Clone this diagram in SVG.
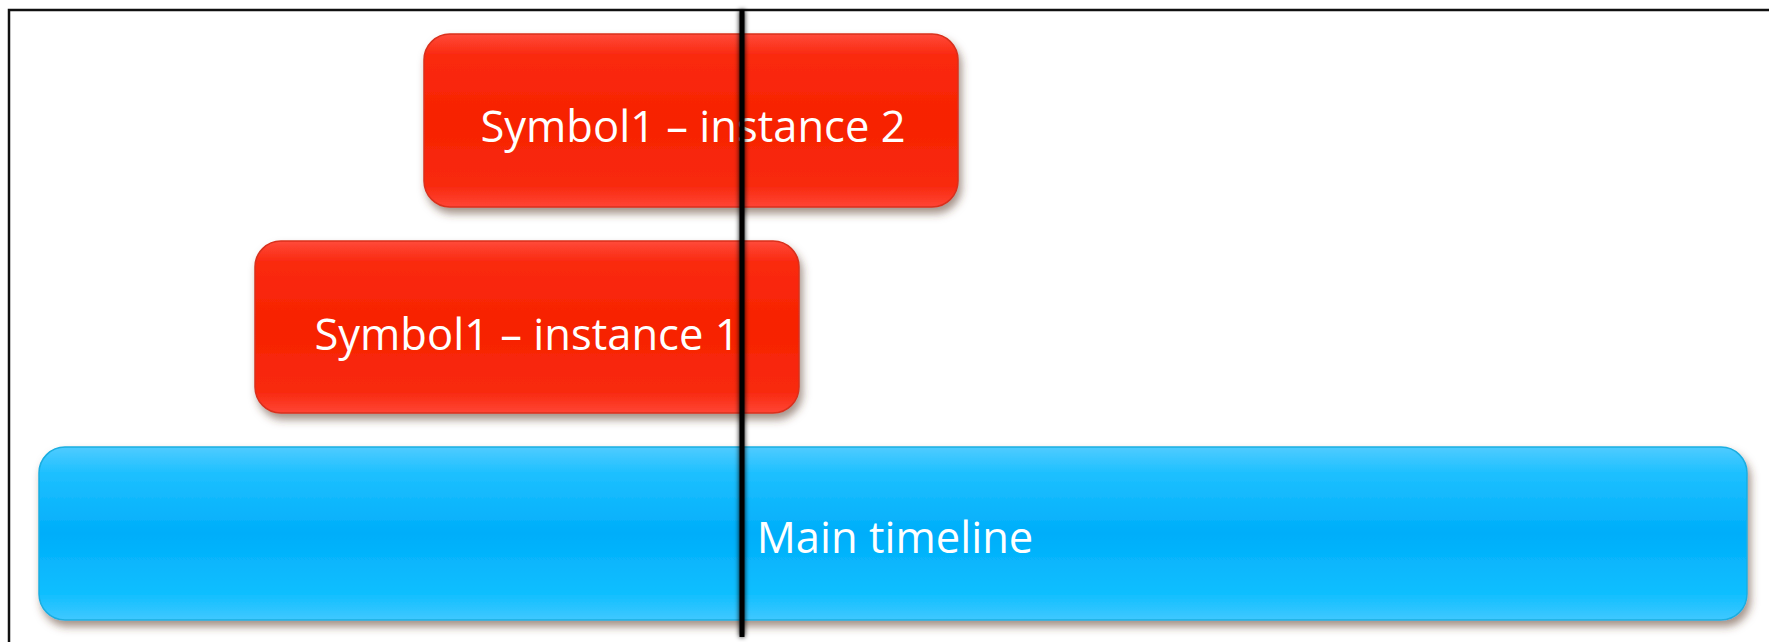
<svg xmlns="http://www.w3.org/2000/svg" width="1769" height="642" viewBox="0 0 1769 642">
<style>
.lbl{font-family:"Open Sans","Noto Sans","Liberation Sans",sans-serif;font-size:43.5px;fill:#ffffff;text-anchor:middle}
.red{fill:url(#gRed);stroke:#d9301c;stroke-width:1.5}
.blue{fill:url(#gBlue);stroke:#1aaee0;stroke-width:1.5}
</style>
<defs>
<linearGradient id="gRed" x1="0" y1="0" x2="0" y2="1">
<stop offset="0" stop-color="#ff4a3a"/>
<stop offset="0.12" stop-color="#fa2a10"/>
<stop offset="0.5" stop-color="#f72200"/>
<stop offset="0.88" stop-color="#f82a10"/>
<stop offset="1" stop-color="#ff4535"/>
</linearGradient>
<linearGradient id="gBlue" x1="0" y1="0" x2="0" y2="1">
<stop offset="0" stop-color="#4fcbff"/>
<stop offset="0.15" stop-color="#1ec0ff"/>
<stop offset="0.5" stop-color="#00aefa"/>
<stop offset="0.85" stop-color="#10bfff"/>
<stop offset="1" stop-color="#40c8ff"/>
</linearGradient>
<filter id="sh" x="-5%" y="-20%" width="115%" height="150%">
<feGaussianBlur in="SourceAlpha" stdDeviation="4"/>
<feOffset dx="3" dy="6" result="b"/>
<feFlood flood-color="#5a3a28" flood-opacity="0.55"/>
<feComposite in2="b" operator="in"/>
<feMerge><feMergeNode/><feMergeNode in="SourceGraphic"/></feMerge>
</filter>
<filter id="lsh" filterUnits="userSpaceOnUse" x="725" y="0" width="35" height="642">
<feGaussianBlur in="SourceAlpha" stdDeviation="2"/>
<feFlood flood-color="#000" flood-opacity="0.3"/>
<feComposite operator="in" in2="SourceAlpha" result="x"/>
<feGaussianBlur in="SourceAlpha" stdDeviation="2.5" result="b"/>
<feMerge><feMergeNode in="b"/><feMergeNode in="SourceGraphic"/></feMerge>
</filter>
</defs>
<rect width="1769" height="642" fill="#ffffff"/>
<path d="M9 642 V10 H1769" fill="none" stroke="#111" stroke-width="2.5"/>
<g id="main-timeline">
<rect class="blue" x="39" y="447" width="1708" height="173" rx="26" filter="url(#sh)"/>
<text class="lbl" x="895" y="553">Main timeline</text>
</g>
<g id="instance1">
<rect class="red" x="255" y="241" width="544" height="172" rx="26" filter="url(#sh)"/>
<text class="lbl" x="527" y="350">Symbol1 – instance 1</text>
</g>
<g id="instance2">
<rect class="red" x="424" y="34" width="534" height="173" rx="26" filter="url(#sh)"/>
<text class="lbl" x="693" y="142">Symbol1 – instance 2</text>
</g>
<g id="connectors">
<rect x="739.5" y="10" width="5" height="627" fill="#000" filter="url(#lsh)"/>
</g>
</svg>
